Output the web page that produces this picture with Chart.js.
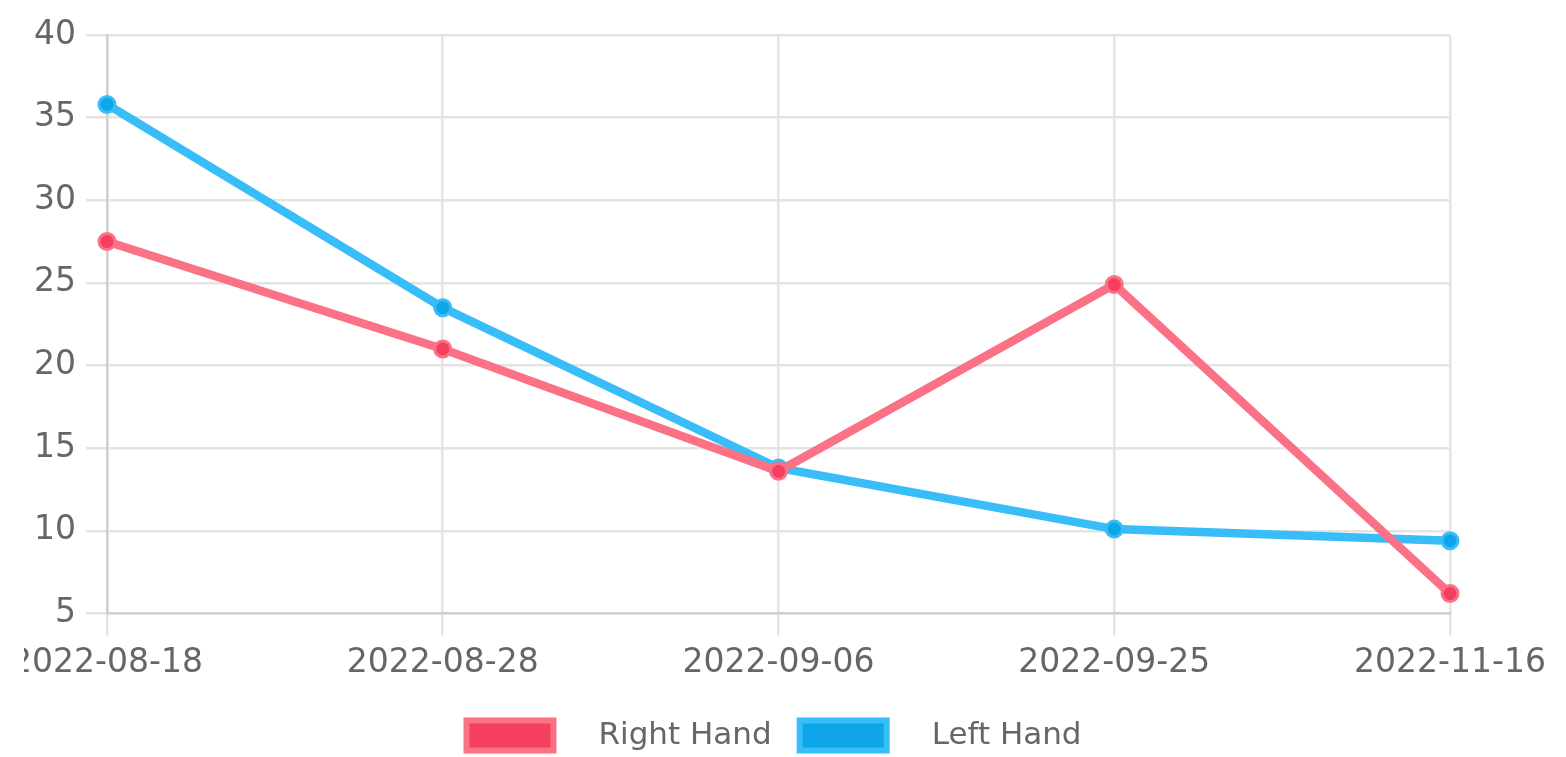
<!DOCTYPE html>
<html>
<head>
<meta charset="utf-8">
<script src="https://cdn.jsdelivr.net/npm/chart.js@4"></script>
<style>
  html, body { margin: 0; padding: 0; background: #fff; overflow: hidden; }
  #myChart { position: absolute; left: 24px; top: 0; }
</style>
</head>
<body>
<canvas id="myChart" width="1540" height="761"></canvas>
<script>
const dates = ['2022-08-18', '2022-08-28', '2022-09-06', '2022-09-25', '2022-11-16'];
const rightHand = [27.5, 21.0, 13.6, 24.9, 6.2];
const leftHand = [35.8, 23.5, 13.8, 10.1, 9.4];
const yTicks = [5, 10, 15, 20, 25, 30, 35, 40];

const canvas = document.getElementById('myChart');
const ctx = canvas.getContext('2d');

Chart.defaults.font.family = "'DejaVu Sans', sans-serif";
Chart.defaults.color = '#666';

new Chart(ctx, {
    type: 'line',
    data: {
        labels: dates,
        datasets: [{
            label: 'Right Hand',
            data: rightHand,
            borderColor: '#fb7185',
            backgroundColor: '#f43f5e',
            borderWidth: 8.5,
            pointRadius: 8,
            pointBorderWidth: 3,
            tension: 0
        }, {
            label: 'Left Hand',
            data: leftHand,
            borderColor: '#38bdf8',
            backgroundColor: '#0ea5e9',
            borderWidth: 8.5,
            pointRadius: 8,
            pointBorderWidth: 3,
            tension: 0
        }]
    },
    options: {
        responsive: false,
        animation: false,
        devicePixelRatio: 1,
        layout: { padding: { top: 35, right: 40, bottom: 0, left: 0 } },
        scales: {
            x: {
                grid: { color: '#e4e4e4', lineWidth: 2.5, tickLength: 22 },
                border: { color: '#d0d0d0', width: 2.5 },
                ticks: { font: { size: 33 }, padding: 8.5, maxRotation: 0 },
                afterFit(scale) {
                    scale.paddingLeft = 0;
                    scale.paddingRight = 114;
                }
            },
            y: {
                min: yTicks[0],
                max: yTicks[yTicks.length - 1],
                grid: { color: '#e4e4e4', lineWidth: 2.5, tickLength: 21 },
                border: { color: '#d0d0d0', width: 2.5 },
                ticks: { font: { size: 33 }, padding: 10, stepSize: 5 }
            }
        },
        plugins: {
            tooltip: { enabled: false },
            legend: {
                position: 'bottom',
                labels: {
                    font: { size: 31 },
                    boxWidth: 87,
                    boxHeight: 30,
                    padding: 28,
                    generateLabels(chart) {
                        const items = Chart.defaults.plugins.legend.labels.generateLabels(chart);
                        items.forEach(it => { it.text = '   ' + it.text; it.lineWidth = 6; });
                        return items;
                    }
                }
            }
        }
    }
});
</script>
</body>
</html>
